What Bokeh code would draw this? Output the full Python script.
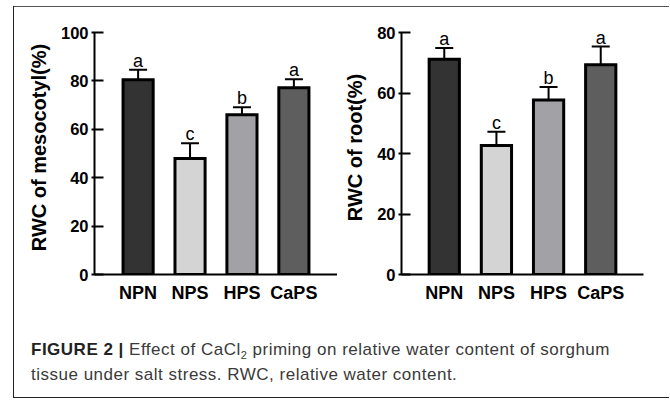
from bokeh.plotting import figure
from bokeh.models import ColumnDataSource, FactorRange, Range1d, FixedTicker, Whisker, TeeHead, Div, Spacer
from bokeh.layouts import row, column
from bokeh.core.properties import value
from bokeh.embed import file_html
from bokeh.resources import INLINE

# ---- data ----
categories = ["NPN", "NPS", "HPS", "CaPS"]
meso_mean = [80.5, 48.0, 66.0, 77.2]
meso_err = [4.1, 6.3, 3.1, 3.5]
meso_letters = ["a", "c", "b", "a"]
root_mean = [71.2, 42.7, 57.7, 69.4]
root_err = [3.7, 4.5, 4.3, 6.0]
root_letters = ["a", "c", "b", "a"]
meso_ticks = [0, 20, 40, 60, 80, 100]
root_ticks = [0, 20, 40, 60, 80]

bar_colors = ["#333333", "#d4d4d4", "#a2a2a6", "#5e5e5e"]
FONT = "Liberation Sans"


def make_chart(means, errs, letters, ticks, yend, ylabel, width, min_left, min_right, pad):
    src = ColumnDataSource(dict(
        cat=categories,
        mean=means,
        upper=[m + e for m, e in zip(means, errs)],
        letter=letters,
        color=bar_colors,
    ))
    p = figure(
        x_range=FactorRange(factors=categories, range_padding=pad, range_padding_units="absolute"),
        y_range=Range1d(0, yend),
        width=width, height=298,
        output_backend="svg", toolbar_location=None,
        min_border_left=min_left, min_border_right=min_right,
        min_border_top=13, min_border_bottom=30,
        margin=0,
    )
    p.vbar(x="cat", top="mean", bottom=0, width=0.58, fill_color="color",
           line_color="black", line_width=3, line_join="miter", source=src)
    wh = Whisker(base="cat", upper="upper", lower="mean", source=src,
                 dimension="height", line_color="black", line_width=2,
                 upper_head=TeeHead(size=18, line_width=2, line_color="black"),
                 lower_head=None)
    p.add_layout(wh)
    p.text(x="cat", y="upper", text="letter", source=src, text_align="center",
           text_baseline="alphabetic", y_offset=-9, text_font=value(FONT),
           text_font_size="18px", text_color="black")

    p.outline_line_color = None
    p.xgrid.visible = False
    p.ygrid.visible = False
    p.background_fill_color = "white"

    xa = p.xaxis[0]
    xa.axis_line_width = 2
    xa.axis_line_color = "black"
    xa.major_tick_in = 0
    xa.major_tick_out = 0
    xa.minor_tick_in = 0
    xa.minor_tick_out = 0
    xa.major_label_text_font = FONT
    xa.major_label_text_font_style = "bold"
    xa.major_label_text_font_size = "18px"
    xa.major_label_text_color = "black"
    xa.major_label_standoff = 8

    ya = p.yaxis[0]
    ya.ticker = FixedTicker(ticks=ticks)
    ya.bounds = (0, ticks[-1])
    ya.axis_line_width = 2
    ya.axis_line_color = "black"
    ya.major_tick_line_width = 2
    ya.major_tick_in = 9
    ya.major_tick_out = 3
    ya.minor_tick_in = 0
    ya.minor_tick_out = 0
    ya.major_label_text_font = FONT
    ya.major_label_text_font_style = "bold"
    ya.major_label_text_font_size = "16.5px"
    ya.major_label_text_color = "black"
    ya.major_label_standoff = 3
    ya.axis_label = ylabel
    ya.axis_label_text_font = FONT
    ya.axis_label_text_font_style = "bold"
    ya.axis_label_text_font_size = "20px"
    ya.axis_label_text_color = "black"
    ya.axis_label_standoff = 8
    return p


p1 = make_chart(meso_mean, meso_err, meso_letters, meso_ticks, 105,
                "RWC of mesocotyl(%)", 323, 80, 0, 0.34)
p2 = make_chart(root_mean, root_err, root_letters, root_ticks, 84,
                "RWC of root(%)", 332, 64, 26, 0.32)

caption_html = (
    '<div style="padding:33px 0 0 17px; font-family:\'Liberation Sans\'; font-size:17px; '
    'letter-spacing:0.5px; line-height:23px; color:#3a3a3a; white-space:nowrap;">'
    '<span style="font-weight:bold; color:#222;">FIGURE 2 |</span> Effect of CaCl'
    '<span style="font-size:11px; position:relative; top:4px;">2</span>'
    ' priming on relative water content of sorghum<br>'
    'tissue under salt stress. RWC, relative water content.</div>'
)
cap = Div(text=caption_html, width=655, height=92, margin=0)

top_line = Div(text="", width=655, height=1, margin=0,
               styles={"background-color": "#555"})
bottom_line = Div(text="", width=655, height=1, margin=0,
                  styles={"background-color": "#222"})
left_line = Div(text="", width=1, height=392, margin=0,
                styles={"background-color": "#222"})

inner = column(top_line, row(p1, p2, margin=0), cap, bottom_line, margin=0)
body = row(Spacer(width=13, height=392, margin=0), left_line, inner, margin=0)
layout = column(Spacer(width=669, height=6, margin=0), body, margin=0)

open("out.html", "w").write(file_html(layout, INLINE))
